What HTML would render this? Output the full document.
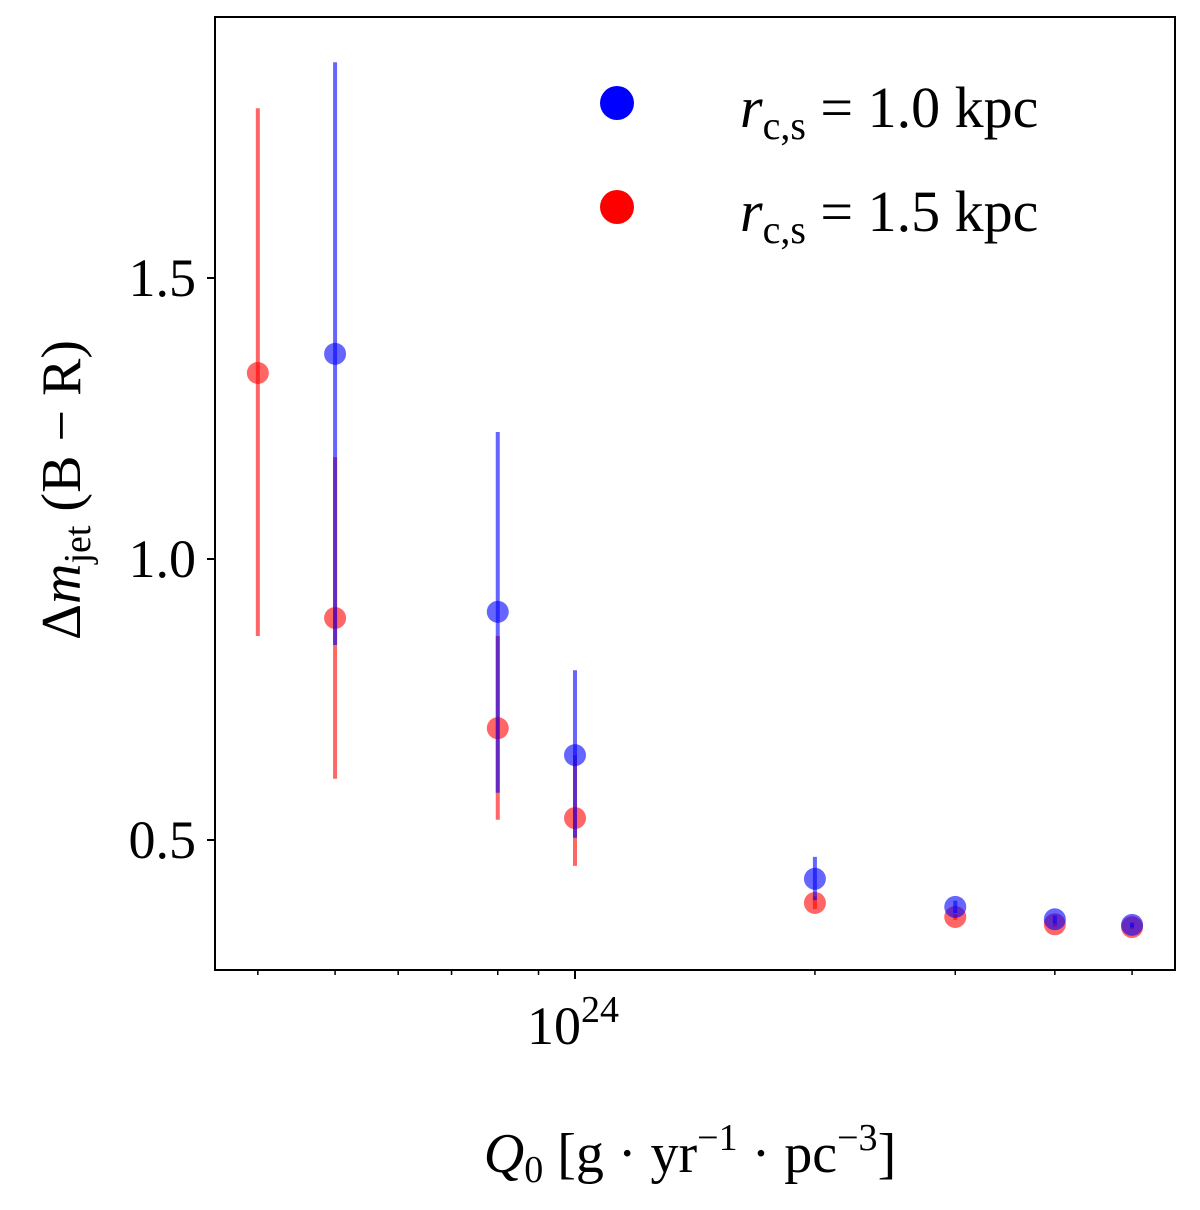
<!DOCTYPE html>
<html><head><meta charset="utf-8"><style>
body{margin:0;background:#fff}
svg text{font-family:"Liberation Serif","DejaVu Serif",serif;fill:#000}
</style></head><body>
<svg id="chart" width="1200" height="1205" viewBox="0 0 1200 1205">
<g id="grid"></g>
<g id="marks"></g>
<rect x="215" y="17" width="960" height="953" fill="none" stroke="#000" stroke-width="2"/>
<g>
<circle cx="617" cy="103" r="17" fill="#0000ff"/>
<text x="740" y="127" font-size="58" font-style="italic">r<tspan font-size="40" font-style="normal" dy="12">c,s</tspan><tspan font-style="normal" dy="-12"> = 1.0 kpc</tspan></text>
<circle cx="617" cy="207" r="17" fill="#ff0000"/>
<text x="740" y="231" font-size="58" font-style="italic">r<tspan font-size="40" font-style="normal" dy="12">c,s</tspan><tspan font-style="normal" dy="-12"> = 1.5 kpc</tspan></text>
</g>
<text transform="translate(80,490) rotate(-90)" text-anchor="middle" font-size="56">Δ<tspan font-style="italic">m</tspan><tspan font-size="38" dy="10">jet</tspan><tspan dy="-10">  (B − R)</tspan></text>
<text x="690" y="1172" text-anchor="middle" font-size="56"><tspan font-style="italic">Q</tspan><tspan font-size="38" dy="10">0</tspan><tspan dy="-10">  [g · yr</tspan><tspan font-size="38" dy="-22">−1</tspan><tspan dy="22"> · pc</tspan><tspan font-size="38" dy="-22">−3</tspan><tspan dy="22">]</tspan></text>
</svg>
<script>
const xValues=[4e23,5e23,8e23,1e24,2e24,3e24,4e24,5e24];
const blueX=[5e23,8e23,1e24,2e24,3e24,4e24,5e24];
const blueY=[1.365,0.906,0.651,0.431,0.381,0.359,0.349];
const blueHi=[1.884,1.226,0.802,0.470,0.392,0.366,0.353];
const blueLo=[0.847,0.584,0.504,0.393,0.370,0.352,0.345];
const redX=[4e23,5e23,8e23,1e24,2e24,3e24,4e24,5e24];
const redY=[1.331,0.895,0.699,0.539,0.388,0.363,0.350,0.345];
const redHi=[1.802,1.181,0.863,0.651,0.400,0.368,0.354,0.348];
const redLo=[0.863,0.609,0.536,0.454,0.377,0.358,0.346,0.342];
const yTicks=[0.5,1.0,1.5];
const yTickLabels=["0.5","1.0","1.5"];
const xMinorTicks=[4e23,5e23,6e23,7e23,8e23,9e23,2e24,3e24,4e24,5e24];
const NS="http://www.w3.org/2000/svg";
function X(v){return 575+797*Math.log10(v/1e24);}
function Y(v){return 559-(v-1.0)*562;}
const grid=document.getElementById('grid'),marks=document.getElementById('marks');
function mk(tag,attrs,parent){const e=document.createElementNS(NS,tag);for(const k in attrs)e.setAttribute(k,attrs[k]);parent.appendChild(e);return e;}
yTicks.forEach((t,i)=>{
 const l=mk('line',{x1:207,x2:215,y1:Y(t),y2:Y(t),stroke:'#000','stroke-width':2},grid);
 
 
 const tx=mk('text',{x:196,y:Y(t)+18,'text-anchor':'end','font-size':54},grid);
 tx.textContent=yTickLabels[i];
 
 
});
xMinorTicks.forEach(t=>{
 const l=mk('line',{x1:X(t),x2:X(t),y1:970,y2:975,stroke:'#000','stroke-width':1.5},grid);
 
 
});
const mj=mk('line',{x1:X(1e24),x2:X(1e24),y1:970,y2:979,stroke:'#000','stroke-width':2},grid);


const xl=mk('text',{x:X(1e24)-2,y:1044,'text-anchor':'middle','font-size':54},grid);
xl.innerHTML='10<tspan font-size="38" dy="-22">24</tspan>';


function series(xs,ys,hi,lo,col,name){
 xs.forEach((x,i)=>{
  const e=mk('line',{x1:X(x),x2:X(x),y1:Y(hi[i]),y2:Y(lo[i]),stroke:col,'stroke-width':4,'stroke-opacity':0.6},marks);
  
  
 });
 xs.forEach((x,i)=>{
  const c=mk('circle',{cx:X(x),cy:Y(ys[i]),r:11,fill:col,'fill-opacity':0.6},marks);
  
  
 });
}
series(redX,redY,redHi,redLo,'#ff0000','red');
series(blueX,blueY,blueHi,blueLo,'#0000ff','blue');
</script>
</body></html>
